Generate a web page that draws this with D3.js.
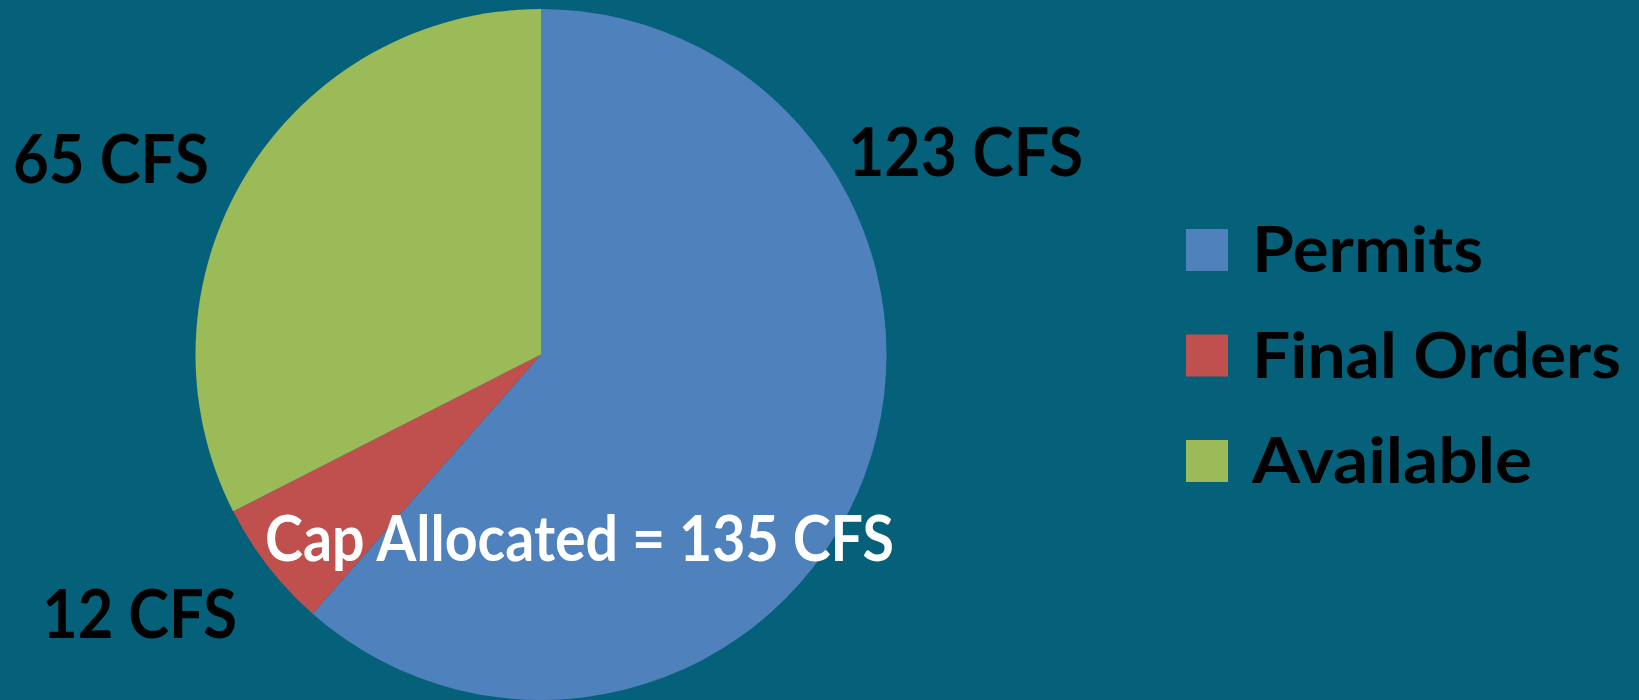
<!DOCTYPE html>
<html lang="en">
<head>
<meta charset="UTF-8">
<title>Cap Allocated</title>
<script src="https://d3js.org/d3.v7.min.js"></script>
<style>
  html, body { margin: 0; padding: 0; background: #05607A; }
  svg { display: block; }
  text { font-family: Lato, "Open Sans", sans-serif; font-weight: 700; }
</style>
</head>
<body>
<div id="chart"></div>
<script>
// Data
const categories = ["Permits", "Final Orders", "Available"];
const values = [123, 12, 65];
const valueLabels = ["123 CFS", "12 CFS", "65 CFS"];
const colors = ["#4F81BD", "#C0504D", "#9BBB59"];
const capText = "Cap Allocated = 135 CFS";

const width = 1639;
const height = 700;
const cx = 541, cy = 354.5, radius = 345.5;

const svg = d3.select("#chart").append("svg")
    .attr("width", width)
    .attr("height", height);

const pie = d3.pie().sort(null).value(d => d);
const arcs = pie(values);
const arc = d3.arc().innerRadius(0).outerRadius(radius);

const g = svg.append("g").attr("transform", `translate(${cx},${cy})`);

g.selectAll("path")
    .data(arcs)
    .enter()
    .append("path")
    .attr("d", arc)
    .attr("fill", (d, i) => colors[i]);

// data labels (placed like the original slide; Calibri is narrower, so squeeze to width)
const labelPos = [
    { x: 848, y: 176, w: 235 },
    { x: 42, y: 638, w: 195 },
    { x: 13, y: 183, w: 196 }
];

svg.append("g")
    .selectAll("text")
    .data(valueLabels)
    .enter()
    .append("text")
    .attr("x", (d, i) => labelPos[i].x)
    .attr("y", (d, i) => labelPos[i].y)
    .attr("font-size", 66)
    .attr("textLength", (d, i) => labelPos[i].w)
    .attr("lengthAdjust", "spacingAndGlyphs")
    .attr("fill", "#000")
    .text(d => d);

svg.append("text")
    .attr("x", 265)
    .attr("y", 561)
    .attr("font-size", 64)
    .attr("textLength", 629)
    .attr("lengthAdjust", "spacingAndGlyphs")
    .attr("fill", "#fff")
    .text(capText);

// legend
const legendW = [231, 369, 280];
const legend = svg.append("g").attr("transform", "translate(1186,229)");
const item = legend.selectAll("g")
    .data(categories)
    .enter()
    .append("g")
    .attr("transform", (d, i) => `translate(0,${i * 105.5})`);

item.append("rect")
    .attr("width", 42)
    .attr("height", 42)
    .attr("fill", (d, i) => colors[i]);

item.append("text")
    .attr("x", 66)
    .attr("y", 43)
    .attr("font-size", 64)
    .attr("textLength", (d, i) => legendW[i])
    .attr("lengthAdjust", "spacingAndGlyphs")
    .attr("fill", "#000")
    .text(d => d);
</script>
</body>
</html>
